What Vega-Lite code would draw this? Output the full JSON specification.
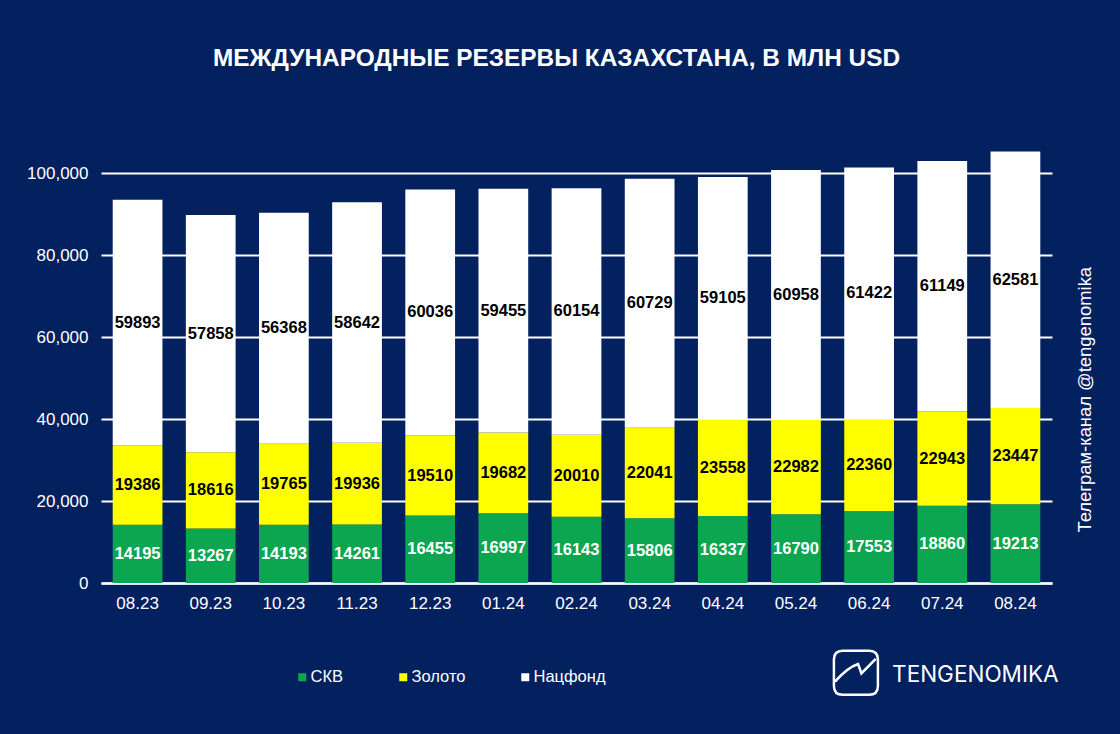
{"$schema":"https://vega.github.io/schema/vega-lite/v6.json","width":951,"height":451,"autosize":{"type":"none"},"padding":{"left":101,"top":132,"right":68,"bottom":151},"background":"#03205F","title":{"text":"МЕЖДУНАРОДНЫЕ РЕЗЕРВЫ КАЗАХСТАНА, В МЛН USD","font":"Liberation Sans","fontSize":24.4,"fontWeight":"bold","color":"#ffffff","anchor":"middle","dx":-20,"offset":61},"config":{"view":{"stroke":null},"text":{"font":"Liberation Sans"}},"datasets":{"d":[{"m":"08.23","s":"СКВ","o":1,"v":14195},{"m":"08.23","s":"Золото","o":2,"v":19386},{"m":"08.23","s":"Нацфонд","o":3,"v":59893},{"m":"09.23","s":"СКВ","o":1,"v":13267},{"m":"09.23","s":"Золото","o":2,"v":18616},{"m":"09.23","s":"Нацфонд","o":3,"v":57858},{"m":"10.23","s":"СКВ","o":1,"v":14193},{"m":"10.23","s":"Золото","o":2,"v":19765},{"m":"10.23","s":"Нацфонд","o":3,"v":56368},{"m":"11.23","s":"СКВ","o":1,"v":14261},{"m":"11.23","s":"Золото","o":2,"v":19936},{"m":"11.23","s":"Нацфонд","o":3,"v":58642},{"m":"12.23","s":"СКВ","o":1,"v":16455},{"m":"12.23","s":"Золото","o":2,"v":19510},{"m":"12.23","s":"Нацфонд","o":3,"v":60036},{"m":"01.24","s":"СКВ","o":1,"v":16997},{"m":"01.24","s":"Золото","o":2,"v":19682},{"m":"01.24","s":"Нацфонд","o":3,"v":59455},{"m":"02.24","s":"СКВ","o":1,"v":16143},{"m":"02.24","s":"Золото","o":2,"v":20010},{"m":"02.24","s":"Нацфонд","o":3,"v":60154},{"m":"03.24","s":"СКВ","o":1,"v":15806},{"m":"03.24","s":"Золото","o":2,"v":22041},{"m":"03.24","s":"Нацфонд","o":3,"v":60729},{"m":"04.24","s":"СКВ","o":1,"v":16337},{"m":"04.24","s":"Золото","o":2,"v":23558},{"m":"04.24","s":"Нацфонд","o":3,"v":59105},{"m":"05.24","s":"СКВ","o":1,"v":16790},{"m":"05.24","s":"Золото","o":2,"v":22982},{"m":"05.24","s":"Нацфонд","o":3,"v":60958},{"m":"06.24","s":"СКВ","o":1,"v":17553},{"m":"06.24","s":"Золото","o":2,"v":22360},{"m":"06.24","s":"Нацфонд","o":3,"v":61422},{"m":"07.24","s":"СКВ","o":1,"v":18860},{"m":"07.24","s":"Золото","o":2,"v":22943},{"m":"07.24","s":"Нацфонд","o":3,"v":61149},{"m":"08.24","s":"СКВ","o":1,"v":19213},{"m":"08.24","s":"Золото","o":2,"v":23447},{"m":"08.24","s":"Нацфонд","o":3,"v":62581}]},"layer":[{"data":{"name":"d"},"mark":{"type":"bar"},"encoding":{"x":{"field":"m","type":"nominal","sort":null,"scale":{"paddingInner":0.32,"paddingOuter":0.16},"axis":{"title":null,"labelAngle":0,"labelColor":"#ffffff","labelFont":"Liberation Sans","labelFontSize":17,"labelPadding":12,"ticks":false,"domainColor":"#ffffff","domainWidth":2.5,"grid":false}},"y":{"field":"v","type":"quantitative","stack":"zero","scale":{"domain":[0,110000],"nice":false},"axis":{"title":null,"values":[0,20000,40000,60000,80000,100000],"labelExpr":"format(datum.value, ',')","labelColor":"#ffffff","labelFont":"Liberation Sans","labelFontSize":17,"labelPadding":13,"ticks":false,"domain":false,"grid":true,"gridColor":"#ffffff","gridWidth":2,"gridOpacity":1}},"order":{"field":"o"},"color":{"field":"s","type":"nominal","scale":{"domain":["СКВ","Золото","Нацфонд"],"range":["#0CA650","#FFFF00","#FFFFFF"]},"legend":{"title":null,"orient":"none","legendX":193,"legendY":537,"direction":"horizontal","columns":3,"symbolType":"square","symbolSize":64,"symbolStrokeWidth":0,"labelColor":"#ffffff","labelFont":"Liberation Sans","labelFontSize":16.5,"labelOffset":0,"columnPadding":51,"gridAlign":"none"}}}},{"data":{"name":"d"},"transform":[{"stack":"v","groupby":["m"],"sort":[{"field":"o","order":"ascending"}],"as":["v0","v1"]},{"fold":["v0","v1"],"as":["edge","pos"]}],"mark":{"type":"text","fontSize":16.5,"fontWeight":"bold","baseline":"middle"},"encoding":{"x":{"field":"m","type":"nominal","sort":null},"y":{"aggregate":"mean","field":"pos","type":"quantitative","stack":null},"detail":{"field":"s"},"text":{"aggregate":"max","field":"v","type":"quantitative","format":"d"},"color":{"condition":{"test":"datum.s === 'СКВ'","value":"#ffffff"},"value":"#000000"}}},{"data":{"values":[{"m":"08.24","y":44700,"t":"Телеграм-канал @tengenomika"}]},"mark":{"type":"text","angle":270,"fontSize":18.4,"color":"#ffffff","dy":70,"align":"center","baseline":"middle"},"encoding":{"x":{"field":"m","type":"nominal","sort":null},"y":{"field":"y","type":"quantitative","stack":null},"text":{"field":"t"}}},{"data":{"values":[{"m":"06.24","y":-22500,"t":"TENGENOMIKA"}]},"mark":{"type":"text","font":"Inter","fontSize":22.5,"color":"#ffffff","dx":23,"align":"left","baseline":"middle"},"encoding":{"x":{"field":"m","type":"nominal","sort":null},"y":{"field":"y","type":"quantitative","stack":null},"text":{"field":"t"}}},{"data":{"values":[{"m":"06.24","y":-21900}]},"mark":{"type":"point","filled":false,"stroke":"#ffffff","strokeWidth":2.5,"size":1936,"opacity":1,"shape":"M-1.2,-1 H0 Q0.4,-1 0.4,-0.6 V0.6 Q0.4,1 0,1 H-1.2 Q-1.6,1 -1.6,0.6 V-0.6 Q-1.6,-1 -1.2,-1 Z M-1.55,0.4 C-1.2,0 -0.8,-0.3 -0.5,-0.4 L-0.35,0.03 L0.3,-0.63"},"encoding":{"x":{"field":"m","type":"nominal","sort":null},"y":{"field":"y","type":"quantitative","stack":null}}}]}
